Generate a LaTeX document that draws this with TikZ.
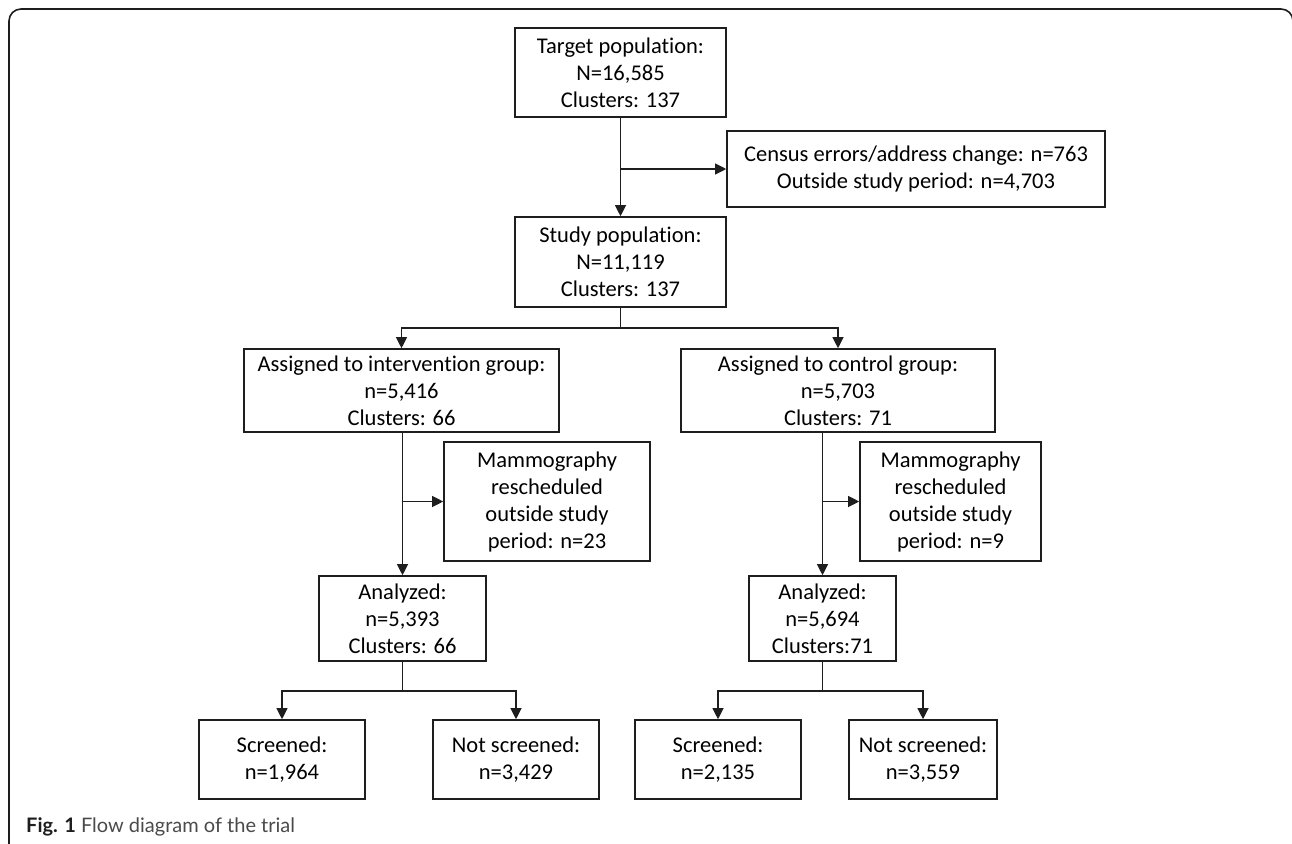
\documentclass[tikz,border=0pt]{standalone}
\usepackage{fontspec}
\setmainfont{Carlito}[Ligatures=NoCommon]
\newfontfamily\capfont{Lato}
\usepackage{xcolor}
\usetikzlibrary{arrows.meta, positioning, calc}

\definecolor{boxline}{HTML}{1E1E1E}
\definecolor{captxt}{HTML}{4A4A4A}

\tikzset{
  box/.style={draw=boxline, line width=1.6pt, align=center, inner sep=0pt,
    font=\fontsize{22.5}{27}\selectfont},
  line/.style={draw=boxline, line width=1.1pt},
  arr/.style={line, -{Triangle[length=11pt,width=11pt]}}
}

\begin{document}
\begin{tikzpicture}[x=1pt,y=-1pt]
      \useasboundingbox (0,0) rectangle (1292,843);
      % frame
      \draw[line width=1.6pt, rounded corners=12pt, boxline] (9,860) -- (9,9) -- (1293,9) -- (1293,860);

      \node[box, minimum width=211pt, minimum height=89pt] (target) at (620.5,72.5)
        {Target population:\\N=16,585\\Clusters: 137};
      \node[box, minimum width=378pt, minimum height=76pt] (census) at (916,169)
        {Census errors/address change: n=763\\Outside study period: n=4,703};
      \node[box, minimum width=211pt, minimum height=90pt] (study) at (620.5,262)
        {Study population:\\N=11,119\\Clusters: 137};

      \node[box, minimum width=315pt, minimum height=83pt] (interv) at (401.5,390.5)
        {Assigned to intervention group:\\n=5,416\\Clusters: 66};
      \node[box, minimum width=314pt, minimum height=83pt] (control) at (838,390.5)
        {Assigned to control group:\\n=5,703\\Clusters: 71};

      \node[box, minimum width=206pt, minimum height=119pt] (mammo1) at (547,501.5)
        {Mammography\\rescheduled\\outside study\\period: n=23};
      \node[box, minimum width=181pt, minimum height=119pt] (mammo2) at (950.5,501.5)
        {Mammography\\rescheduled\\outside study\\period: n=9};

      \node[box, minimum width=167pt, minimum height=85pt] (anal1) at (402.5,618.5)
        {Analyzed:\\n=5,393\\Clusters: 66};
      \node[box, minimum width=147pt, minimum height=85pt] (anal2) at (822.5,618.5)
        {Analyzed:\\n=5,694\\Clusters:71};

      \node[box, minimum width=166pt, minimum height=79pt] (scr1) at (282,759.5)
        {Screened:\\n=1,964};
      \node[box, minimum width=166pt, minimum height=79pt] (notscr1) at (516,759.5)
        {Not screened:\\n=3,429};
      \node[box, minimum width=166pt, minimum height=79pt] (scr2) at (718,759.5)
        {Screened:\\n=2,135};
      \node[box, minimum width=148pt, minimum height=79pt] (notscr2) at (923,759.5)
        {Not screened:\\n=3,559};

      \coordinate (split1) at (620.5,328);
      \coordinate (split2) at (402.5,691);
      \coordinate (split3) at (822.5,691);

      % target to study
      \draw[arr] (target) -- (study);
      % target to census
      \draw[arr] (target.south |- census.west) -- (census.west);
      % study to groups
      \draw[line] (study) -- (split1);
      \draw[arr] (split1) -| (interv.north);
      \draw[arr] (split1) -| (control.north);
      % intervention to analyzed
      \draw[arr] (interv.south -| anal1.north) -- (anal1.north);
      \draw[arr] (anal1.north |- mammo1.west) -- (mammo1.west);
      % control to analyzed
      \draw[arr] (control.south -| anal2.north) -- (anal2.north);
      \draw[arr] (anal2.north |- mammo2.west) -- (mammo2.west);
      % analyzed to screened
      \draw[line] (anal1) -- (split2);
      \draw[arr] (split2) -| (scr1.north);
      \draw[arr] (split2) -| (notscr1.north);
      \draw[line] (anal2) -- (split3);
      \draw[arr] (split3) -| (scr2.north);
      \draw[arr] (split3) -| (notscr2.north);

      \node[anchor=base west, inner sep=0pt, font=\capfont\fontsize{20}{24}\selectfont, text=captxt] (caption) at (26,832)
        {\textbf{\color{boxline}Fig. 1} Flow diagram of the trial};
\end{tikzpicture}
\end{document}
